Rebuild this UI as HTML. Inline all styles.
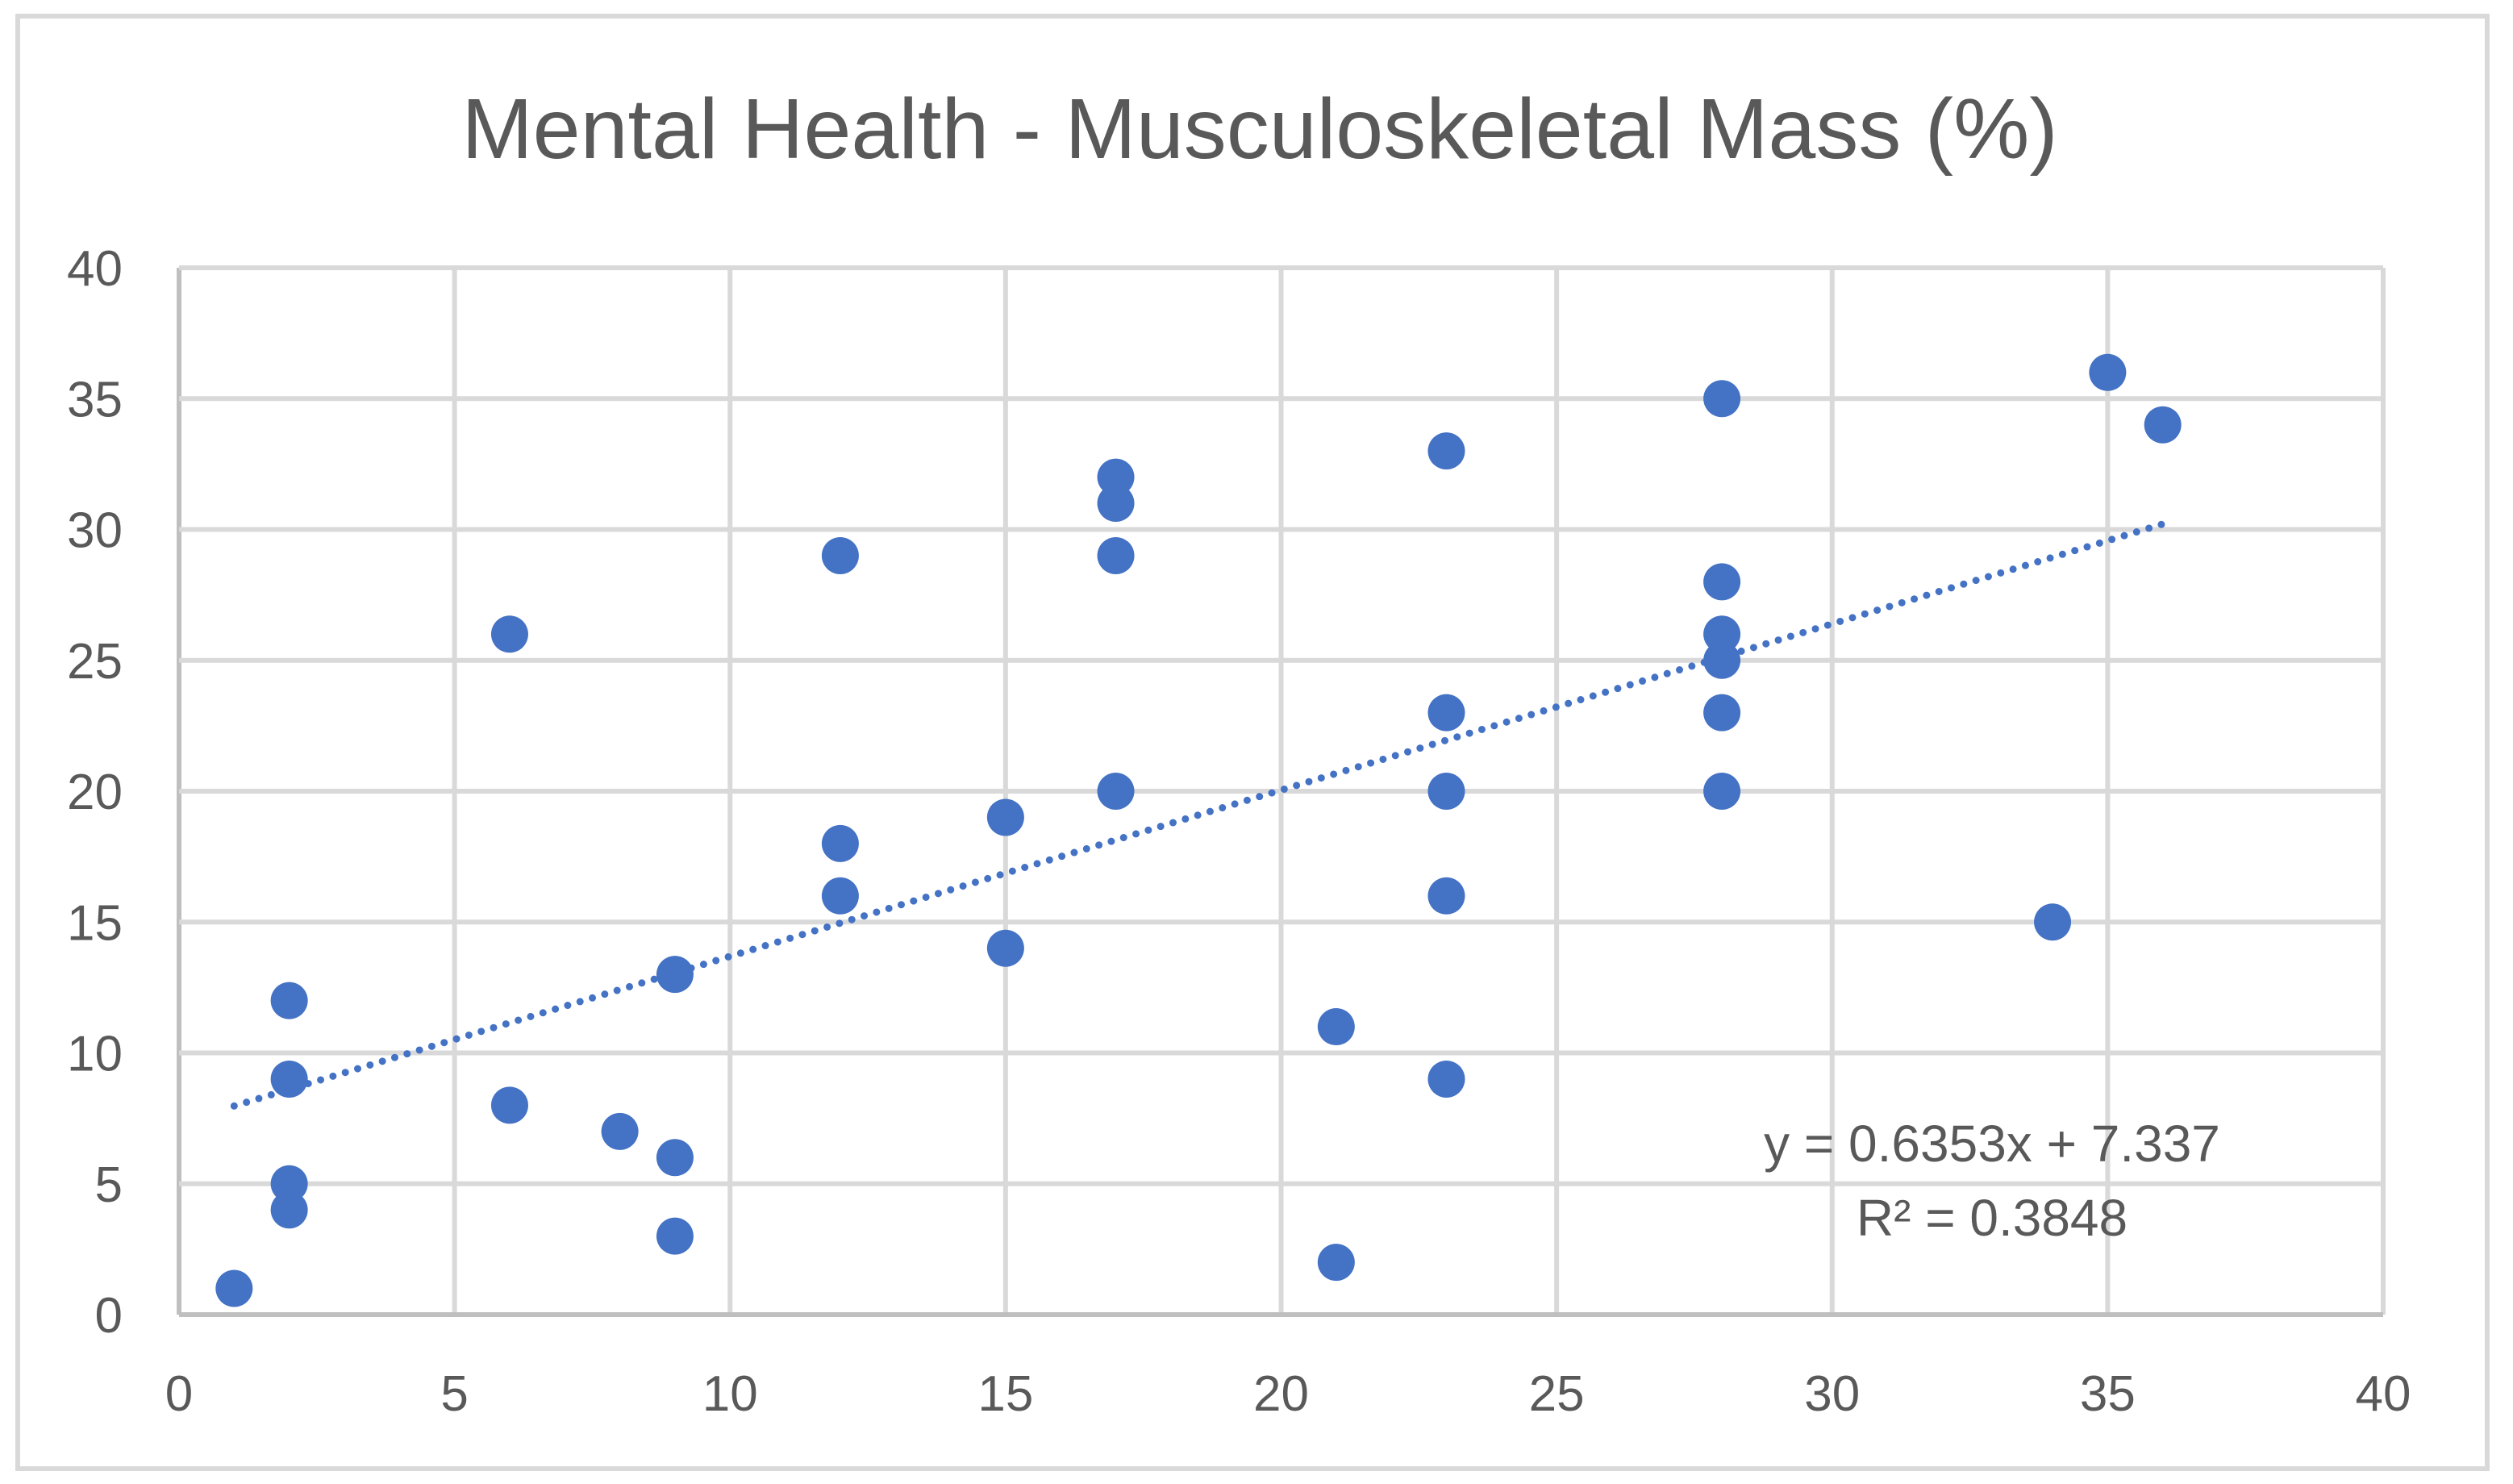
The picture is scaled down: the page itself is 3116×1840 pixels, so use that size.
<!DOCTYPE html>
<html><head><meta charset="utf-8"><style>
html,body{margin:0;padding:0;background:#fff;}
svg{display:block;font-family:"Liberation Sans",sans-serif;}
</style></head><body>
<svg id="chart" width="3116" height="1840" viewBox="0 0 3116 1840">
<rect x="22" y="20" width="3062" height="1801" fill="#fff" stroke="#d9d9d9" stroke-width="6"/>
<text x="1562" y="196" text-anchor="middle" font-size="106" fill="#595959">Mental Health - Musculoskeletal Mass (%)</text>
<g id="grid"></g><g id="ticks"></g><g id="trend"></g><g id="pts"></g>
<text x="2470" y="1440" text-anchor="middle" font-size="64" fill="#595959">y = 0.6353x + 7.337</text>
<text x="2470" y="1532" text-anchor="middle" font-size="64" fill="#595959">R² = 0.3848</text>
</svg>
<script>
const xVals=[1,2,2,2,2,6,6,8,9,9,9,12,12,12,15,15,17,17,17,17,21,21,23,23,23,23,23,28,28,28,28,28,28,34,35,36];
const yVals=[1,12,9,5,4,26,8,7,13,6,3,29,18,16,19,14,32,31,29,20,11,2,33,23,20,16,9,35,28,26,25,23,20,15,36,34];
const xTicks=[0,5,10,15,20,25,30,35,40];
const yTicks=[0,5,10,15,20,25,30,35,40];
const trendSlope=0.6353, trendIntercept=7.337, trendRange=[1,36];
const NS="http://www.w3.org/2000/svg";
const X0=222,X1=2955,Y0=1630,Y1=332;
const sx=v=>X0+(v-0)/(40-0)*(X1-X0);
const sy=v=>Y0-(v-0)/(40-0)*(Y0-Y1);
function mk(t,a,p){const e=document.createElementNS(NS,t);for(const k in a)e.setAttribute(k,a[k]);p.appendChild(e);return e;}
const grid=document.getElementById('grid'),ticks=document.getElementById('ticks');
xTicks.forEach(v=>{
 const l=mk('line',{x1:sx(v),x2:sx(v),y1:Y1,y2:Y0,stroke:v===0?'#bfbfbf':'#d9d9d9','stroke-width':6},grid);
 
 
 const t=mk('text',{x:sx(v),y:1749,'text-anchor':'middle','font-size':62,fill:'#595959'},ticks);t.textContent=v;
 
 
});
yTicks.forEach(v=>{
 const l=mk('line',{x1:X0,x2:X1,y1:sy(v),y2:sy(v),stroke:v===0?'#bfbfbf':'#d9d9d9','stroke-width':6},grid);
 
 
 const t=mk('text',{x:152,y:sy(v)+22,'text-anchor':'end','font-size':62,fill:'#595959'},ticks);t.textContent=v;
 
 
});
const tr=mk('line',{x1:sx(trendRange[0]),y1:sy(trendSlope*trendRange[0]+trendIntercept),x2:sx(trendRange[1]),y2:sy(trendSlope*trendRange[1]+trendIntercept),stroke:'#4472c4','stroke-width':9,'stroke-dasharray':'0 16','stroke-linecap':'round'},document.getElementById('trend'));


const pts=document.getElementById('pts');
xVals.forEach((x,i)=>{
 const c=mk('ellipse',{cx:sx(x),cy:sy(yVals[i]),rx:23,ry:23,fill:'#4472c4'},pts);
 
 
});
</script>
</body></html>
